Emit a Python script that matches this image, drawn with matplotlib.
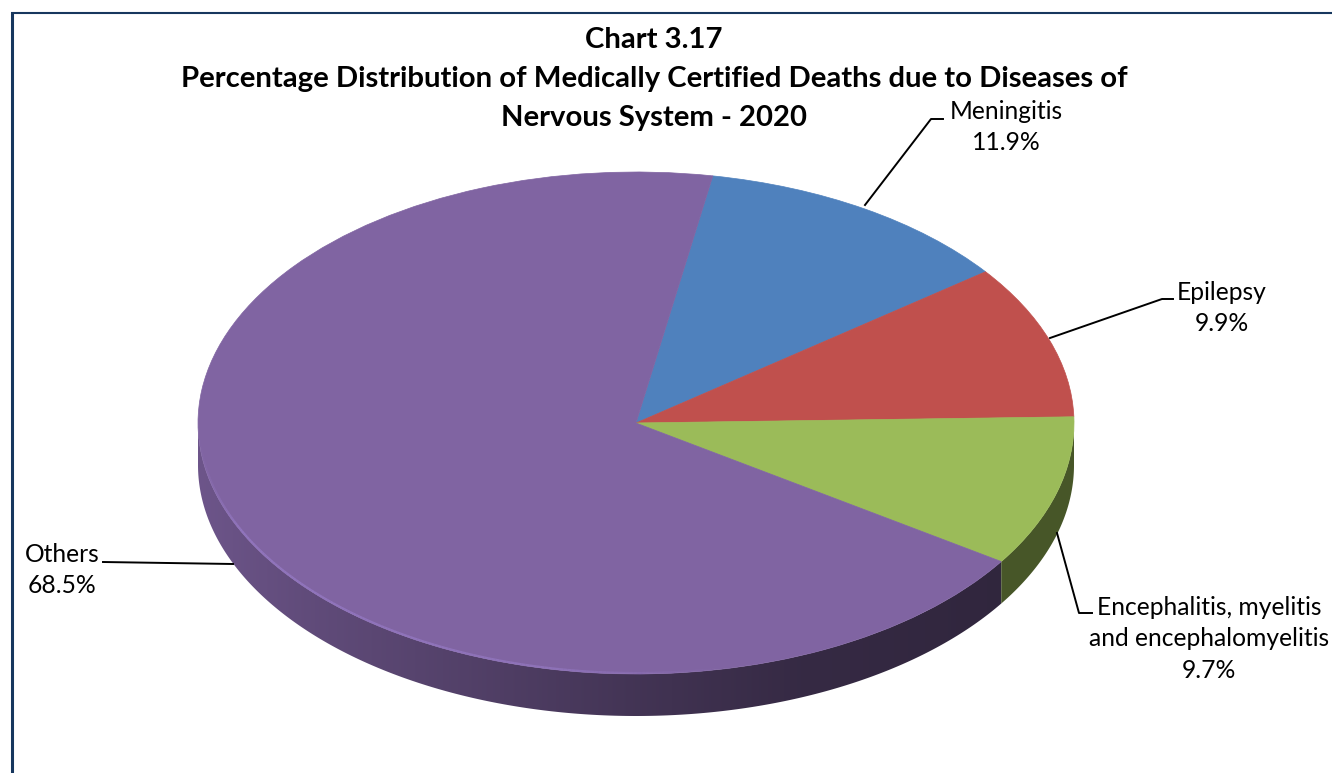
import matplotlib
matplotlib.use('Agg')
import matplotlib.pyplot as plt
import numpy as np
from matplotlib.collections import LineCollection
from matplotlib.colors import to_rgb
from matplotlib.patches import Polygon

plt.rcParams['font.family'] = ['Lato', 'DejaVu Sans']

# Data
labels = ['Meningitis', 'Epilepsy', 'Encephalitis, myelitis\nand encephalomyelitis', 'Others']
values = [11.9, 9.9, 9.7, 68.5]
colors = ['#4f81bd', '#c0504d', '#9bbb59', '#8064a2']
title_lines = ['Chart 3.17',
               'Percentage Distribution of Medically Certified Deaths due to Diseases of',
               'Nervous System - 2020']

W, H = 1332, 773
cx, cy, rx, ry, depth = 636, 423, 438, 251, 42
start = 79.9

fig = plt.figure(figsize=(W / 100, H / 100), dpi=100, facecolor='white')
ax = fig.add_axes([0, 0, 1, 1])
ax.set_xlim(0, W)
ax.set_ylim(H, 0)
ax.axis('off')

# border
border = '#17375e'
ax.plot([12, 12], [H, 12], color=border, lw=2.2, solid_capstyle='butt')
ax.plot([11, W], [13, 13], color=border, lw=1.5, solid_capstyle='butt')

# slice edges, degrees on the ellipse
edges = start - np.cumsum(values) * 3.6


def rim_shape(t0, t1):
    t = np.radians(np.linspace(t0, t1, 300))
    x = cx + rx * np.cos(t)
    y = cy - ry * np.sin(t)
    return np.r_[np.c_[x, y], np.c_[x[::-1], y[::-1] + depth]]


def rim_image(base, xs, factors):
    # one row of colours shaded along x, clipped to the rim
    cols = np.linspace(cx - rx, cx + rx, 440)
    f = np.interp(cols, xs, factors)
    img = np.array(to_rgb(base))[None, None, :] * f[None, :, None]
    return img


rims = [
    (colors[3], -180, edges[2], [198, 300, 500, 640, 800, 1002], [0.85, 0.76, 0.62, 0.52, 0.42, 0.38]),
    (colors[2], edges[2], 0, [1002, 1074], [0.46, 0.46]),
]
for base, t0, t1, xs, factors in rims:
    im = ax.imshow(rim_image(base, xs, factors), extent=(cx - rx, cx + rx, cy + ry + depth, cy - ry),
                   aspect='auto', interpolation='bilinear', zorder=1)
    patch = Polygon(rim_shape(t0, t1), closed=True, transform=ax.transData, facecolor='none', edgecolor='none')
    ax.add_patch(patch)
    im.set_clip_path(patch)
ax.set_xlim(0, W)
ax.set_ylim(H, 0)

# top surface
pie_ax = fig.add_axes([(cx - rx) / W, 1 - (cy + ry) / H, 2 * rx / W, 2 * ry / H])
wedges, _ = pie_ax.pie(values, colors=colors, startangle=start, counterclock=False, radius=1)
for w, c in zip(wedges, colors):
    w.set_edgecolor(c)
    w.set_linewidth(0.5)
pie_ax.set_aspect('auto')
pie_ax.set_xlim(-1, 1)
pie_ax.set_ylim(-1, 1)
pie_ax.patch.set_alpha(0)

# overlay for text, leaders and the lit edge
top = fig.add_axes([0, 0, 1, 1])
top.set_xlim(0, W)
top.set_ylim(H, 0)
top.axis('off')
top.patch.set_alpha(0)

a = np.radians(np.linspace(-180, -78, 200))
lit = np.c_[cx + (rx - 1) * np.cos(a), cy - (ry - 1) * np.sin(a)]
segs = np.stack([lit[:-1], lit[1:]], axis=1)
fade = np.interp(lit[:-1, 0], [198, 240, 550, 725], [0.0, 0.85, 0.7, 0.0])
lit_cols = [(0.58, 0.47, 0.76, v) for v in fade]
top.add_collection(LineCollection(segs, colors=lit_cols, linewidths=1.6))

for line, base_y in zip(title_lines, [48, 87, 126]):
    top.text(654, base_y, line, ha='center', va='baseline', fontsize=21.1, fontweight='bold', color='black')

leaders = [
    ([865, 931, 943], [205, 119, 119]),
    ([1050, 1162, 1173], [338, 299, 299]),
    ([1057, 1079, 1092], [533, 613, 613]),
    ([233, 103], [564, 562]),
]
for xs, ys in leaders:
    top.plot(xs, ys, color='black', lw=1.4)

label_pos = [(1006, 127), (1222, 308), (1209, 639), (62, 570)]
for lab, v, (x, y) in zip(labels, values, label_pos):
    top.text(x, y, f'{lab}\n{v}%', ha='center', va='center', fontsize=17.7, color='black', linespacing=1.43)

fig.savefig('out.png', dpi=100)
